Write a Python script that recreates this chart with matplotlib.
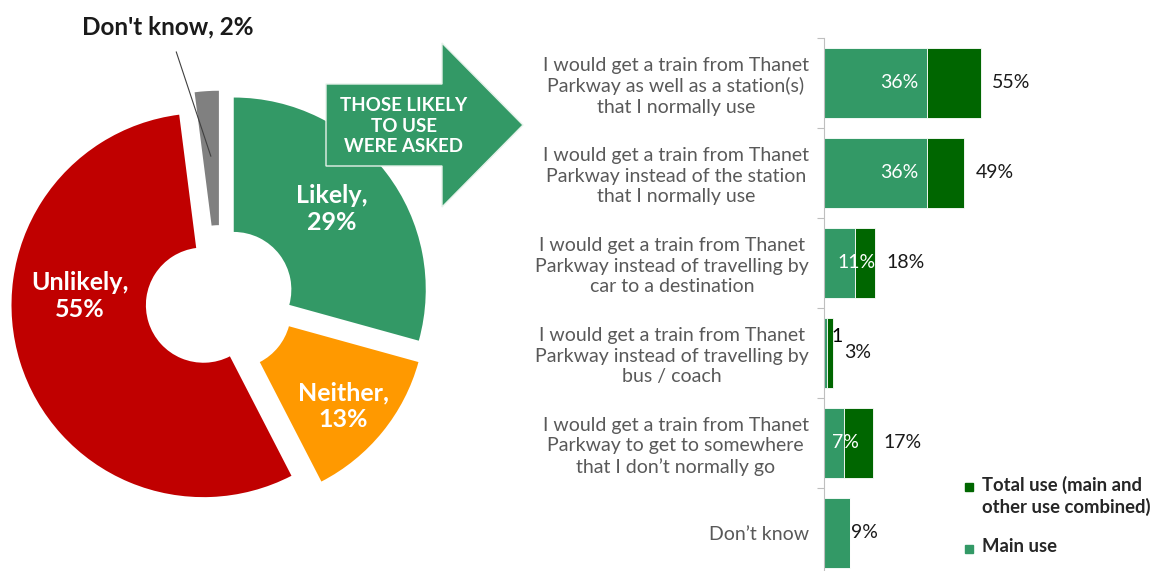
import numpy as np
import matplotlib
matplotlib.use("Agg")
import matplotlib.pyplot as plt
from matplotlib.patches import FancyArrow, Rectangle

plt.rcParams['font.family'] = ['Lato', 'DejaVu Sans']

# pie: likelihood of using Thanet Parkway
pie_labels = ["Likely", "Neither", "Unlikely", "Don't know"]
pie_values = [29, 13, 55, 2]
pie_colors = ['#339966', '#FF9900', '#C00000', '#808080']

# bars: how those likely to use it would use it
bar_cats = [
    "I would get a train from Thanet\nParkway as well as a station(s)\nthat I normally use",
    "I would get a train from Thanet\nParkway instead of the station\nthat I normally use",
    "I would get a train from Thanet\nParkway instead of travelling by\ncar to a destination",
    "I would get a train from Thanet\nParkway instead of travelling by\nbus / coach",
    "I would get a train from Thanet\nParkway to get to somewhere\nthat I don\u2019t normally go",
    "Don\u2019t know",
]
main_use = [36, 36, 11, 1, 7, 9]
total_use = [55, 49, 18, 3, 17, None]
legend_labels = ["Total use (main and\nother use combined)", "Main use"]

LIGHT = '#339966'
DARK = '#006600'
GREY_TXT = '#595959'

W, H = 1162, 571
fig = plt.figure(figsize=(W / 100, H / 100), dpi=100)

# ---------------- pie (donut) ----------------
R = 192.0            # radius in pixels
cx, cy = 220, 300    # centre in pixels (from top)
ax_pie = fig.add_axes([0, 0, 440 / W, 1])
wedges, _ = ax_pie.pie(pie_values, colors=pie_colors, startangle=90,
                       counterclock=False, explode=[0.09] * 4,
                       wedgeprops=dict(width=0.70, linewidth=0))
ax_pie.set_xlim(-cx / R, (440 - cx) / R)
ax_pie.set_ylim(-(H - cy) / R, cy / R)
ax_pie.set_axis_off()


def px2d(px, py):
    return (px - cx) / R, (cy - py) / R


# label spots (pixels) - excel "best fit" placement
label_px = [(332, 209), (343, 406), (80, 296)]
for (lx, ly), lab, val in zip(label_px, pie_labels[:3], pie_values[:3]):
    ax_pie.text(*px2d(lx, ly), f"{lab},\n{val}%", ha='center', va='center',
                color='white', fontsize=18, fontweight='bold', linespacing=1.2)

# Don't know label with leader line
w = wedges[3]
mid = np.deg2rad((w.theta1 + w.theta2) / 2)
x0, y0 = w.center
ax_pie.annotate(f"{pie_labels[3]}, {pie_values[3]}%",
                xy=(x0 + 0.66 * np.cos(mid), y0 + 0.66 * np.sin(mid)),
                xytext=px2d(168, 27), ha='center', va='center',
                fontsize=17.5, fontweight='bold', color='#1a1a1a',
                arrowprops=dict(arrowstyle='-', color='#404040', lw=0.8,
                                shrinkA=8, shrinkB=0))

# ---------------- bars ----------------
px_per = 2.8545
ax = fig.add_axes([824 / W, -7 / H, 110 * px_per / W, 540 / H])
ax.patch.set_visible(False)
y = np.arange(len(bar_cats))
ax.barh(y, main_use, height=0.77, color=LIGHT, edgecolor='white', linewidth=0.6)
extra = [0 if t is None else t - m for m, t in zip(main_use, total_use)]
ax.barh(y, extra, left=main_use, height=0.77, color=DARK, edgecolor='white', linewidth=0.6)

for i, (m, t) in enumerate(zip(main_use, total_use)):
    if t is None:
        ax.text(m + 0.3, i, f"{m}%", ha='left', va='center', fontsize=14, color='#1a1a1a')
        continue
    if m >= 20:
        ax.text(m - 3, i, f"{m}%", ha='right', va='center', fontsize=14, color='white')
    elif m >= 5:
        ax.text(m + 0.5, i, f"{m}%", ha='center', va='center', fontsize=14, color='white')
    else:
        ax.text(m + 1.5, i - 0.18, f"{m}", ha='left', va='center', fontsize=14, color='black')
    ax.text(t + 4, i, f"{t}%", ha='left', va='center', fontsize=14, color='#1a1a1a')

ax.set_xlim(0, 110)
ax.set_ylim(len(bar_cats) - 0.5, -0.5)
ax.set_xticks([])
ax.set_yticks(np.arange(-0.5, len(bar_cats) + 0.5, 1))
ax.set_yticklabels([])
ax.set_yticks(y, minor=True)
ax.set_yticklabels(bar_cats, minor=True, fontsize=14, color=GREY_TXT,
                   multialignment='center', linespacing=1.25)
ax.tick_params(axis='y', which='major', length=5, color='#bfbfbf', width=0.8)
ax.tick_params(axis='y', which='minor', length=0, pad=11)
for s in ['top', 'right', 'bottom']:
    ax.spines[s].set_visible(False)
ax.spines['left'].set_color('#bfbfbf')
ax.spines['left'].set_linewidth(0.8)

# ---------------- arrow + legend overlay (pixel coords) ----------------
ax_ov = fig.add_axes([0, 0, 1, 1])
ax_ov.patch.set_visible(False)
ax_ov.set_xlim(0, W)
ax_ov.set_ylim(H, 0)
ax_ov.set_axis_off()
ax_ov.add_patch(FancyArrow(326, 125, 197, 0, width=82, head_width=164,
                           head_length=81, length_includes_head=True,
                           facecolor=LIGHT, edgecolor='#e6f2ea', linewidth=1))
ax_ov.text(404, 126, "THOSE LIKELY\nTO USE\nWERE ASKED", ha='center', va='center',
           color='white', fontsize=13.5, fontweight='bold', linespacing=1.25)

# legend, square next to first line of each entry
for (ly, col, lab) in zip([487, 549], [DARK, LIGHT], legend_labels):
    ax_ov.add_patch(Rectangle((965, ly - 4), 7.5, 7.5, color=col))
    ax_ov.text(982, ly - 11, lab, ha='left', va='top', fontsize=13.3,
               fontweight='bold', color='#262626', linespacing=1.25)

fig.savefig("out.png", dpi=100)
